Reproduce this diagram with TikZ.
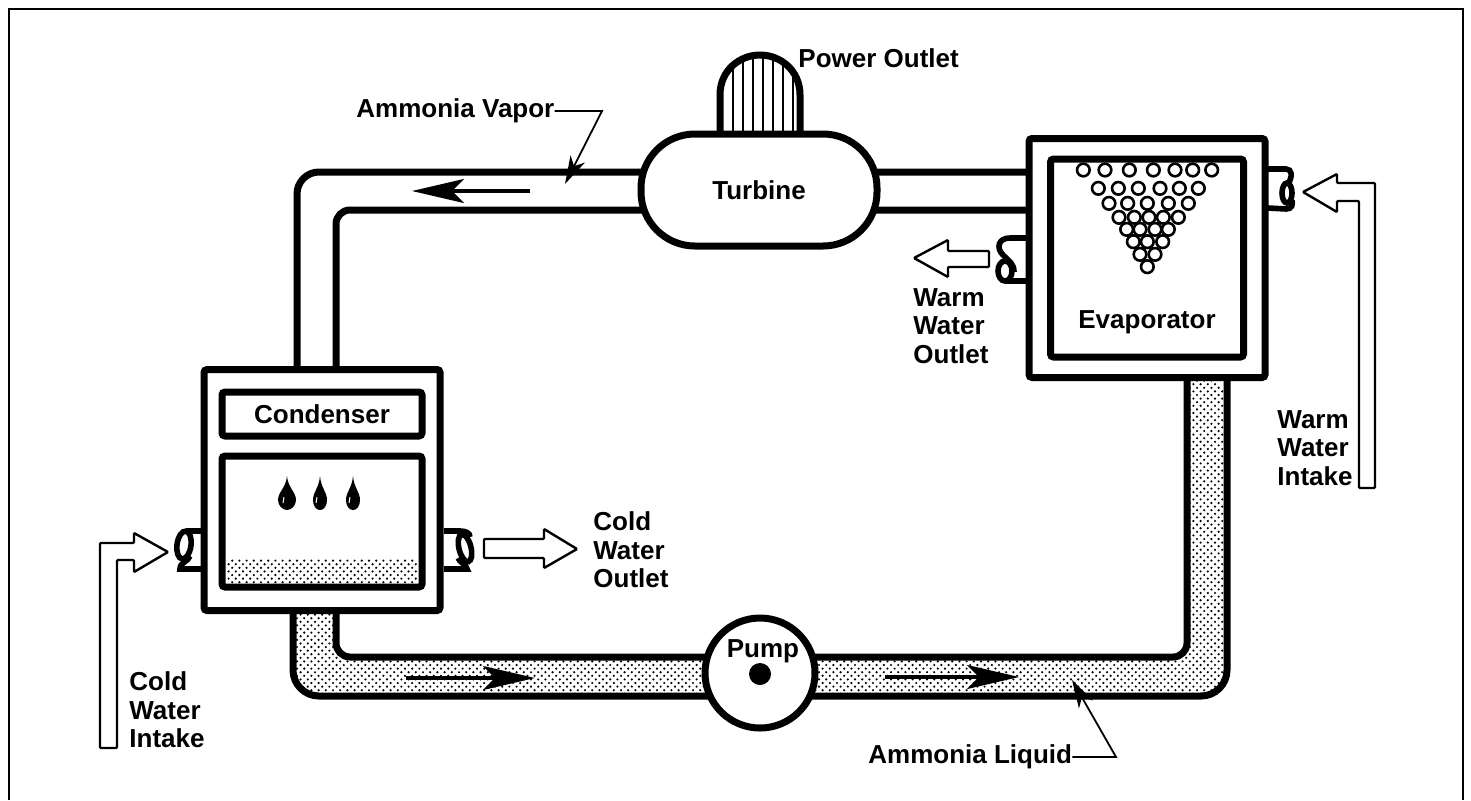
\documentclass[tikz,border=0pt]{standalone}
\usepackage{fontspec}
\setmainfont{Liberation Sans}
\usetikzlibrary{arrows.meta,patterns,positioning}
\pgfdeclarepatternformonly{stipple}{\pgfqpoint{-1pt}{-1pt}}{\pgfqpoint{4pt}{4pt}}{\pgfqpoint{3.6pt}{3.6pt}}
{
  \pgfpathcircle{\pgfqpoint{.9pt}{.9pt}}{.6pt}
  \pgfpathcircle{\pgfqpoint{2.7pt}{2.7pt}}{.6pt}
  \pgfusepath{fill}
}
\tikzset{font=\bfseries\fontsize{13}{14.2}\selectfont}
\tikzstyle{vessel}=[draw,fill=white,line width=3.5pt,inner sep=0pt,rounded corners=1.5pt]
\tikzstyle{pipe}=[line width=3.5pt]
\tikzstyle{stub}=[line width=2.8pt]
\tikzstyle{hollow}=[draw,fill=white,line width=1.2pt,rounded corners=.5pt]
\tikzstyle{lbl}=[inner sep=0pt,align=left,anchor=west]
\tikzstyle{leader}=[line width=.9pt,-{Stealth[length=14pt,width=8pt,inset=4pt]}]
\tikzstyle{flow}=[line width=1.7pt,-{Stealth[length=26pt,width=12pt,inset=6pt]}]
\begin{document}
\begin{tikzpicture}[x=.5pt,y=-.5pt]
\useasboundingbox (0,0) rectangle (1471,800);
% frame
\draw[line width=1.2pt] (9,800) -- (9,9) -- (1463,9) -- (1463,800);
% liquid pipe
\path[pattern=stipple] (293,610) [rounded corners=13pt] -- (293,696) -- (1227,696) -- (1227,377) [sharp corners] -- (1187,377) [rounded corners=7pt] -- (1187,657) -- (336,657) [sharp corners] -- (336,610) -- cycle;
\draw[pipe,rounded corners=13pt] (293,610) -- (293,696) -- (1227,696) -- (1227,377);
\draw[pipe,rounded corners=7pt] (336,610) -- (336,657) -- (1187,657) -- (1187,377);
% vapor pipe
\draw[pipe,rounded corners=11pt] (297,369) -- (297,172) -- (1029,172);
\draw[pipe,rounded corners=7pt] (336,369) -- (336,210) -- (1029,210);
% power outlet
\draw[pipe,fill=white] (720,134) -- (720,95) .. controls (720,70) and (740,55) .. (760,55) .. controls (780,55) and (800,70) .. (800,95) -- (800,134);
\begin{scope}
\clip (720,134) -- (720,95) .. controls (720,70) and (740,55) .. (760,55) .. controls (780,55) and (800,70) .. (800,95) -- (800,134) -- cycle;
\foreach \x in {733,743,...,793}
  \draw[line width=.7pt] (\x,50) -- (\x,134);
\end{scope}
% stubs
\draw[stub] (201,531) -- (186,531);
\draw[stub,rotate around={-8:(184,545)}] (184,545) ellipse [x radius=7,y radius=14];
\draw[stub] (190,556) .. controls (188,562) and (180,562) .. (180,569) -- (201,569);
\draw[stub] (444,531) -- (460,531) .. controls (466,531) and (470,533) .. (470,537);
\draw[stub,rotate around={14:(465,548)}] (465,548) ellipse [x radius=6,y radius=14];
\draw[stub] (458,558) .. controls (460,563) and (466,564) .. (467,569) -- (444,569);
\draw[stub] (1027,238) -- (1010,238) .. controls (998,238) and (996,248) .. (1003,255) .. controls (1010,262) and (1014,264) .. (1014,272);
\draw[stub] (1005,271) ellipse [x radius=7,y radius=10];
\draw[stub] (1005,281) -- (1027,281);
\draw[stub] (1268,169) -- (1286,169) .. controls (1292,169) and (1293,176) .. (1288,184);
\draw[stub] (1287,193) ellipse [x radius=5,y radius=10];
\draw[stub] (1292,200) .. controls (1293,205) and (1292,209) .. (1286,209) -- (1268,208);
% vessels
\node[vessel,rounded corners=27pt,minimum width=118pt,minimum height=56pt] (turbine) at (759,190) {Turbine};
\node[vessel,minimum width=118pt,minimum height=120.5pt] (cond) at (322,490) {};
\node[vessel,minimum width=100pt,minimum height=22pt] (condlabel) at (322,414) {Condenser};
\node[vessel,minimum width=100pt,minimum height=65.5pt] (condtank) at (322,521.5) {};
\node[vessel,minimum width=118pt,minimum height=119.5pt] (evap) at (1147,258) {};
\node[vessel,minimum width=96.5pt,minimum height=99pt] (evapin) at (1147,258) {};
\node (evaplabel) at (1147,322) {Evaporator};
\node[vessel,circle,minimum size=55pt] (pump) at (760,673) {};
\node (pumplabel) at (763,651) {Pump};
\node[circle,fill=black,inner sep=0pt,minimum size=11pt] (pumpdot) at (760,674) {};
% condensate
\path[pattern=stipple] (226,559) rectangle (418,583);
\foreach \x/\w in {287/9,320/7,353/7}
{
  \fill (\x,476) .. controls (\x+1,488) and (\x+\w,492) .. (\x+\w,500) .. controls (\x+\w,506) and (\x+4,510) .. (\x,510) .. controls (\x-4,510) and (\x-\w,506) .. (\x-\w,500) .. controls (\x-\w,492) and (\x-1,488) .. (\x,476);
  \draw[white,line width=.5pt] (\x-3,497) -- (\x-4,503);
}
% bubbles
\foreach \xz/\yz in {550/150,615/150,688/150,760/150,825/150,878/150,935/150,595/205,655/205,715/205,780/205,838/205,895/205,627/250,683/250,742/250,805/250,865/250,657/292,703/292,747/292,790/292,835/292,680/328,720/328,765/328,805/328,700/365,742/365,788/365,720/403,765/403,742/440}
  \draw[line width=1.3pt,fill=white] ({900+\xz/3},{120+\yz/3}) circle [radius=6.3];
% water arrows
\path[hollow] (100,748) -- (100,543) -- (134,543) -- (134,533) -- (168,552) -- (134,572) -- (134,560) -- (117,560) -- (117,748) -- cycle;
\path[hollow] (484,539) -- (544,539) -- (544,529) -- (577,549) -- (544,568) -- (544,558) -- (484,558) -- cycle;
\path[hollow] (989,251) -- (948,251) -- (948,240) -- (914,258) -- (948,277) -- (948,267) -- (989,267) -- cycle;
\path[hollow] (1375,488) -- (1375,183) -- (1337,183) -- (1337,174) -- (1303,192) -- (1337,212) -- (1337,201) -- (1359,201) -- (1359,488) -- cycle;
% labels
\node[lbl] (power) at (798,58) {Power Outlet};
\node[lbl] (vapor) at (356,111) {Ammonia Vapor};
\node[lbl] (liquid) at (868,757) {Ammonia Liquid};
\node[lbl] (coldin) at (129,710) {Cold\\Water\\Intake};
\node[lbl] (coldout) at (593,550) {Cold\\Water\\Outlet};
\node[lbl] (warmout) at (913,326) {Warm\\Water\\Outlet};
\node[lbl] (warmin) at (1277,448) {Warm\\Water\\Intake};
% leaders and flow
\coordinate (vaporbend) at (602,111);
\coordinate (vaportip) at (565,184);
\coordinate (liquidbend) at (1116,757);
\coordinate (liquidtip) at (1072,680);
\draw[leader] (vapor.east) -- (vaporbend) -- (vaportip);
\draw[leader] (liquid.east) -- (liquidbend) -- (liquidtip);
\coordinate (flow1a) at (530,191);
\coordinate (flow1b) at (412,191);
\coordinate (flow2a) at (406,678);
\coordinate (flow2b) at (535,678);
\coordinate (flow3a) at (885,677);
\coordinate (flow3b) at (1019,677);
\draw[flow] (flow1a) -- (flow1b);
\draw[flow] (flow2a) -- (flow2b);
\draw[flow] (flow3a) -- (flow3b);
\end{tikzpicture}
\end{document}
